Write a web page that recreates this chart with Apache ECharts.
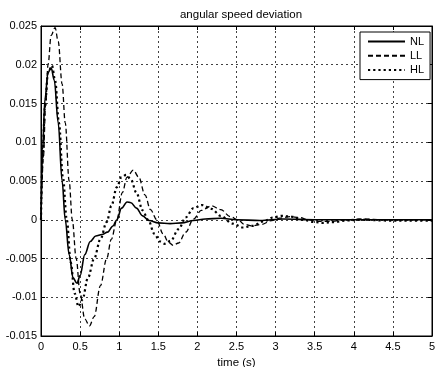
<!DOCTYPE html>
<html>
<head>
<meta charset="utf-8">
<script src="https://cdn.jsdelivr.net/npm/echarts@6/dist/echarts.min.js"></script>
<style>
  html, body { margin: 0; padding: 0; background: #fff; }
  #chart { width: 436px; height: 367px; }
</style>
</head>
<body>
<div id="chart"></div>
<script>
// Rotor angular speed deviation after a disturbance, three loading cases.
const seriesNames = ['NL', 'LL', 'HL'];

// [time (s), deviation]
const nlPoints = [
  [0, 0], [0.02, 0.009], [0.05, 0.0155], [0.09, 0.019], [0.13, 0.0196], [0.17, 0.018],
  [0.22, 0.0125], [0.27, 0.005], [0.31, 0], [0.36, -0.0045], [0.41, -0.0075], [0.46, -0.0082],
  [0.5, -0.0072], [0.56, -0.0045], [0.63, -0.0028], [0.7, -0.0021], [0.78, -0.0019],
  [0.85, -0.0016], [0.92, -0.0008], [0.97, 0], [1.03, 0.0015], [1.1, 0.0023], [1.15, 0.0022],
  [1.22, 0.0015], [1.3, 0.0005], [1.38, -0.0001], [1.5, -0.0004], [1.65, -0.0005], [1.8, -0.0004],
  [1.95, -0.0001], [2.1, 0.0001], [2.3, 0.0002], [2.5, 0.0], [2.8, -0.0001], [3.1, 0.0001],
  [3.5, 0], [4, 0], [4.5, 0], [5, 0]
];

const llPoints = [
  [0, 0], [0.03, 0.008], [0.06, 0.015], [0.09, 0.02], [0.13, 0.0238], [0.18, 0.0248],
  [0.22, 0.023], [0.27, 0.0175], [0.31, 0.0125], [0.36, 0.005], [0.4, 0], [0.45, -0.005],
  [0.5, -0.0095], [0.56, -0.0128], [0.62, -0.0137], [0.68, -0.0125], [0.76, -0.0085],
  [0.84, -0.005], [0.9, -0.0025], [0.97, 0], [1.04, 0.0035], [1.1, 0.0055], [1.18, 0.0064],
  [1.25, 0.0055], [1.33, 0.0032], [1.4, 0.0013], [1.48, 0], [1.56, -0.0018], [1.63, -0.0029],
  [1.69, -0.0033], [1.76, -0.003], [1.85, -0.0016], [1.95, 0.0001], [2.05, 0.0012],
  [2.18, 0.0018], [2.3, 0.0013], [2.42, 0.0004], [2.52, 0], [2.6, -0.0006], [2.7, -0.0008],
  [2.82, -0.0006], [2.95, -0.0001], [3.05, 0.0002], [3.19, 0.0004], [3.3, 0.0003], [3.42, 0],
  [3.55, -0.0002], [3.7, -0.0002], [3.9, 0], [4.1, 0.0001], [4.4, 0], [5, 0]
];

const hlPoints = [
  [0, 0], [0.02, 0.008], [0.05, 0.0145], [0.09, 0.019], [0.14, 0.0199], [0.18, 0.018],
  [0.23, 0.0125], [0.28, 0.0055], [0.33, 0], [0.38, -0.0055], [0.43, -0.0095], [0.48, -0.0112],
  [0.53, -0.0103], [0.6, -0.0075], [0.68, -0.005], [0.76, -0.0025], [0.84, -0.0003],
  [0.9, 0.0018], [0.97, 0.0042], [1.03, 0.0055], [1.09, 0.0058], [1.15, 0.0052], [1.22, 0.0035],
  [1.3, 0.0012], [1.37, 0], [1.45, -0.0018], [1.52, -0.0028], [1.58, -0.0031], [1.66, -0.0027],
  [1.76, -0.0012], [1.85, 0.0003], [1.95, 0.0015], [2.06, 0.0019], [2.18, 0.0014], [2.3, 0.0005],
  [2.45, -0.0005], [2.58, -0.001], [2.7, -0.0008], [2.85, -0.0002], [2.97, 0.0003],
  [3.08, 0.0005], [3.2, 0.0004], [3.35, 0], [3.5, -0.0003], [3.6, -0.0004], [3.75, -0.0003],
  [3.9, -0.0001], [4.1, 0], [4.4, -0.0001], [4.7, -0.0001], [5, -0.0001]
];

const xTickLabels = ['0', '0.5', '1', '1.5', '2', '2.5', '3', '3.5', '4', '4.5', '5'];
const yTickLabels = ['-0.015', '-0.01', '-0.005', '0', '0.005', '0.01', '0.015', '0.02', '0.025'];

const X_MIN = 0, X_MAX = 5, X_STEP = 0.5;
const Y_MIN = -0.015, Y_MAX = 0.025, Y_STEP = 0.005;

const FONT = '"Liberation Sans", Arial, Helvetica, sans-serif';

function pickLabel(labels, min, step) {
  return function (v) {
    const i = Math.round((v - min) / step);
    return labels[i] !== undefined ? labels[i] : '';
  };
}

const gridLine = { show: true, lineStyle: { color: '#111', width: 0.8, type: [2, 3] } };
const tickIn = { show: true, inside: true, length: 4, lineStyle: { color: '#000', width: 1 } };
const frameLine = { show: true, onZero: false, lineStyle: { color: '#000', width: 1 } };

const chart = echarts.init(document.getElementById('chart'), null, { renderer: 'canvas' });

chart.setOption({
  backgroundColor: '#fff',
  animation: false,
  title: {
    text: 'angular speed deviation',
    left: 236, top: 4, textAlign: 'center',
    textStyle: { fontFamily: FONT, fontSize: 11.5, fontWeight: 'normal', color: '#000' }
  },
  grid: {
    left: 41, right: 4, top: 26, bottom: 31,
    containLabel: false, outerBoundsMode: 'none',
    show: true, borderColor: '#000', borderWidth: 1, backgroundColor: '#fff'
  },
  legend: {
    data: seriesNames,
    orient: 'vertical',
    left: 360, top: 32,
    itemWidth: 37, itemHeight: 14, itemGap: 3,
    padding: [4, 6, 4, 7],
    borderColor: '#000', borderWidth: 1, backgroundColor: '#fff',
    itemStyle: { opacity: 0 },
    textStyle: { fontFamily: FONT, fontSize: 11, color: '#000' },
    inactiveColor: '#000'
  },
  xAxis: [{
    type: 'value', min: X_MIN, max: X_MAX, interval: X_STEP,
    name: 'time (s)', nameLocation: 'middle', nameGap: 19,
    nameTextStyle: { fontFamily: FONT, fontSize: 11.5, color: '#000' },
    axisLine: frameLine,
    axisTick: tickIn,
    axisLabel: { fontFamily: FONT, fontSize: 11, color: '#000', margin: 5,
      formatter: pickLabel(xTickLabels, X_MIN, X_STEP) },
    splitLine: gridLine
  }, {
    type: 'value', min: X_MIN, max: X_MAX, interval: X_STEP, position: 'top',
    axisLine: frameLine,
    axisTick: tickIn, axisLabel: { show: false }, splitLine: { show: false }
  }],
  yAxis: [{
    type: 'value', min: Y_MIN, max: Y_MAX, interval: Y_STEP,
    axisLine: frameLine,
    axisTick: tickIn,
    axisLabel: { fontFamily: FONT, fontSize: 11, color: '#000', margin: 4,
      formatter: pickLabel(yTickLabels, Y_MIN, Y_STEP) },
    splitLine: gridLine
  }, {
    type: 'value', min: Y_MIN, max: Y_MAX, interval: Y_STEP, position: 'right',
    axisLine: frameLine,
    axisTick: tickIn, axisLabel: { show: false }, splitLine: { show: false }
  }],
  series: [
    {
      name: 'NL', type: 'line', data: nlPoints, xAxisIndex: 0, yAxisIndex: 0,
      showSymbol: false, symbol: 'none', smooth: 0.35, smoothMonotone: 'x',
      lineStyle: { color: '#000', width: 1.6, type: 'solid' }, itemStyle: { color: '#000' },
      z: 4
    },
    {
      name: 'LL', type: 'line', data: llPoints, xAxisIndex: 0, yAxisIndex: 0,
      showSymbol: false, symbol: 'none', smooth: 0.35, smoothMonotone: 'x',
      lineStyle: { color: '#000', width: 1.3, type: [5, 3] }, itemStyle: { color: '#000' },
      z: 3
    },
    {
      name: 'HL', type: 'line', data: hlPoints, xAxisIndex: 0, yAxisIndex: 0,
      showSymbol: false, symbol: 'none', smooth: 0.35, smoothMonotone: 'x',
      lineStyle: { color: '#000', width: 2.2, type: [2.2, 3] }, itemStyle: { color: '#000' },
      z: 3
    }
  ]
});
</script>
</body>
</html>
